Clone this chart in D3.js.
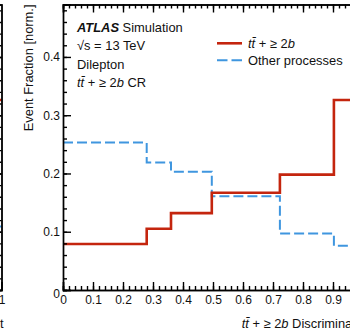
<!DOCTYPE html>
<html>
<head>
<meta charset="utf-8">
<script src="https://cdn.jsdelivr.net/npm/d3@7"></script>
<style>
    body { margin: 0; background: #fff; }
    svg { display: block; font-family: 'Liberation Sans', Arial, sans-serif; }
    .axis path, .axis line { stroke: #000; stroke-width: 1.4; }
    .axis text { font-size: 12px; fill: #111; }
    .label { font-size: 12.9px; fill: #111; }
</style>
</head>
<body>
<div id="myChart"></div>
<script>
// bin edges of the discriminant and the normalised fraction in each bin
const binEdges = [0, 0.279, 0.36, 0.496, 0.723, 0.903, 1];
const ttbbFrac = [0.079, 0.105, 0.132, 0.167, 0.198, 0.326];
const otherFrac = [0.253, 0.219, 0.203, 0.161, 0.097, 0.076];

// the neighbouring panel, only its last bin is visible at the left edge
const leftEdges = [0.9, 1];
const leftTtbbFrac = [0.326];
const leftOtherFrac = [0.109];

const xTicks = [0, 0.1, 0.2, 0.3, 0.4, 0.5, 0.6, 0.7, 0.8, 0.9, 1];
const yTicks = [0, 0.1, 0.2, 0.3, 0.4];
const legendNames = ['ttbb', 'Other processes'];

const red = '#c4250e';
const blue = '#3f96df';

let width = 350;
let height = 332;
let plot = { left: 63, right: 363, top: 4.5, bottom: 290 };

let svg = d3
    .select('#myChart')
    .append('svg')
    .attr('width', width)
    .attr('height', height);

let x = d3.scaleLinear().domain([0, 1]).range([plot.left, plot.right]);
let y = d3.scaleLinear().domain([0, 0.49]).range([plot.bottom, plot.top]);
// left panel shares the y scale, its right edge sits at x = 1.5
let xLeft = d3.scaleLinear().domain([0, 1]).range([1.5 - 300, 1.5]);

let minorX = d3.range(0, 1.0001, 0.02);
let minorY = d3.range(0, 0.4901, 0.02);

function stepLine(xs, edges, vals) {
    let pts = vals.map((v, i) => ({ e: edges[i], v: v }));
    pts.push({ e: edges[edges.length - 1], v: vals[vals.length - 1] });
    return d3
        .line()
        .x((d) => xs(d.e))
        .y((d) => y(d.v))
        .curve(d3.curveStepAfter)(pts);
}

// ---- left panel fragment ----
svg.append('path')
    .attr('d', stepLine(xLeft, leftEdges, leftOtherFrac))
    .attr('fill', 'none')
    .attr('stroke', blue)
    .attr('stroke-width', 2)
    .attr('stroke-dasharray', '10,4');

svg.append('path')
    .attr('d', stepLine(xLeft, leftEdges, leftTtbbFrac))
    .attr('fill', 'none')
    .attr('stroke', red)
    .attr('stroke-width', 2.6);

svg.append('g')
    .attr('class', 'axis')
    .attr('transform', 'translate(' + xLeft(1) + ',0)')
    .call(d3.axisRight(y).tickValues(minorY).tickSize(-4).tickFormat(''));
svg.append('g')
    .attr('class', 'axis')
    .attr('transform', 'translate(' + xLeft(1) + ',0)')
    .call(d3.axisRight(y).tickValues(yTicks).tickSize(-8).tickFormat(''));

svg.append('g')
    .attr('class', 'axis')
    .attr('transform', 'translate(0,' + plot.bottom + ')')
    .call(d3.axisBottom(xLeft).tickValues([1]).tickSize(-8).tickPadding(5).tickFormat(d3.format('d')));

// ---- main panel ----
svg.append('path')
    .attr('d', stepLine(x, binEdges, otherFrac))
    .attr('fill', 'none')
    .attr('stroke', blue)
    .attr('stroke-width', 2)
    .attr('stroke-dasharray', '10,4');

svg.append('path')
    .attr('d', stepLine(x, binEdges, ttbbFrac))
    .attr('fill', 'none')
    .attr('stroke', red)
    .attr('stroke-width', 2.6);

// minor ticks
svg.append('g')
    .attr('class', 'axis')
    .attr('transform', 'translate(0,' + plot.bottom + ')')
    .call(d3.axisBottom(x).tickValues(minorX).tickSize(-4).tickFormat(''));
svg.append('g')
    .attr('class', 'axis')
    .attr('transform', 'translate(0,' + plot.top + ')')
    .call(d3.axisTop(x).tickValues(minorX).tickSize(-4).tickFormat(''));
svg.append('g')
    .attr('class', 'axis')
    .attr('transform', 'translate(' + plot.left + ',0)')
    .call(d3.axisLeft(y).tickValues(minorY).tickSize(-4).tickFormat(''));
svg.append('g')
    .attr('class', 'axis')
    .attr('transform', 'translate(' + plot.right + ',0)')
    .call(d3.axisRight(y).tickValues(minorY).tickSize(-4).tickFormat(''));

// major ticks + labels
svg.append('g')
    .attr('class', 'axis')
    .attr('transform', 'translate(0,' + plot.bottom + ')')
    .call(
        d3.axisBottom(x)
            .tickValues(xTicks)
            .tickSize(-8)
            .tickPadding(5)
            .tickFormat((d) => (d === 0 || d === 1 ? d3.format('d')(d) : d3.format('.1f')(d)))
    );
svg.append('g')
    .attr('class', 'axis')
    .attr('transform', 'translate(0,' + plot.top + ')')
    .call(d3.axisTop(x).tickValues(xTicks).tickSize(-8).tickFormat(''));
let yAxis = svg.append('g')
    .attr('class', 'axis')
    .attr('transform', 'translate(' + plot.left + ',0)')
    .call(
        d3.axisLeft(y)
            .tickValues(yTicks)
            .tickSize(-8)
            .tickPadding(3)
            .tickFormat((d) => (d === 0 ? '0' : d3.format('.1f')(d)))
    );
// the zero label sits a little low, as in the original
yAxis.selectAll('.tick text').filter((d) => d === 0).attr('dy', '0.6em');
svg.append('g')
    .attr('class', 'axis')
    .attr('transform', 'translate(' + plot.right + ',0)')
    .call(d3.axisRight(y).tickValues(yTicks).tickSize(-8).tickFormat(''));

// axis titles
svg.append('text')
    .attr('class', 'label')
    .attr('transform', 'translate(33,' + plot.top + ') rotate(-90)')
    .style('text-anchor', 'end')
    .text('Event Fraction [norm.]');

function ttbbText(sel, suffix) {
    sel.append('tspan').style('font-style', 'italic').text('tt\u0304');
    sel.append('tspan').text(' + \u2265 2');
    sel.append('tspan').style('font-style', 'italic').text('b');
    if (suffix) sel.append('tspan').text(suffix);
}

let xTitle = svg.append('text')
    .attr('class', 'label')
    .attr('x', plot.right)
    .attr('y', 328)
    .style('text-anchor', 'end');
ttbbText(xTitle, ' Discriminant');

let xTitleLeft = svg.append('text')
    .attr('class', 'label')
    .attr('x', xLeft(1) + 2)
    .attr('y', 328)
    .style('text-anchor', 'end');
ttbbText(xTitleLeft, ' Discriminant');

// ATLAS block
let info = svg.append('g').attr('transform', 'translate(77,0)');
let atlas = info.append('text').attr('class', 'label').attr('y', 31.5);
atlas.append('tspan').style('font-weight', 'bold').style('font-style', 'italic').text('ATLAS');
atlas.append('tspan').text(' Simulation');
info.append('text').attr('class', 'label').attr('y', 50).text('\u221As = 13 TeV');
info.append('text').attr('class', 'label').attr('y', 68.5).text('Dilepton');
let region = info.append('text').attr('class', 'label').attr('y', 87);
ttbbText(region, ' CR');

// legend
let legend = svg.append('g').attr('transform', 'translate(217,0)');
legendNames.forEach((name, i) => {
    let ly = 43.3 + i * 17;
    legend.append('line')
        .attr('x1', 0)
        .attr('x2', 25)
        .attr('y1', ly)
        .attr('y2', ly)
        .attr('stroke', i === 0 ? red : blue)
        .attr('stroke-width', i === 0 ? 2.6 : 2)
        .attr('stroke-dasharray', i === 0 ? null : '10.5,4');
    let t = legend.append('text')
        .attr('class', 'label')
        .attr('x', 31)
        .attr('y', ly + 4.4);
    if (name === 'ttbb') ttbbText(t);
    else t.text(name);
});
</script>
</body>
</html>
